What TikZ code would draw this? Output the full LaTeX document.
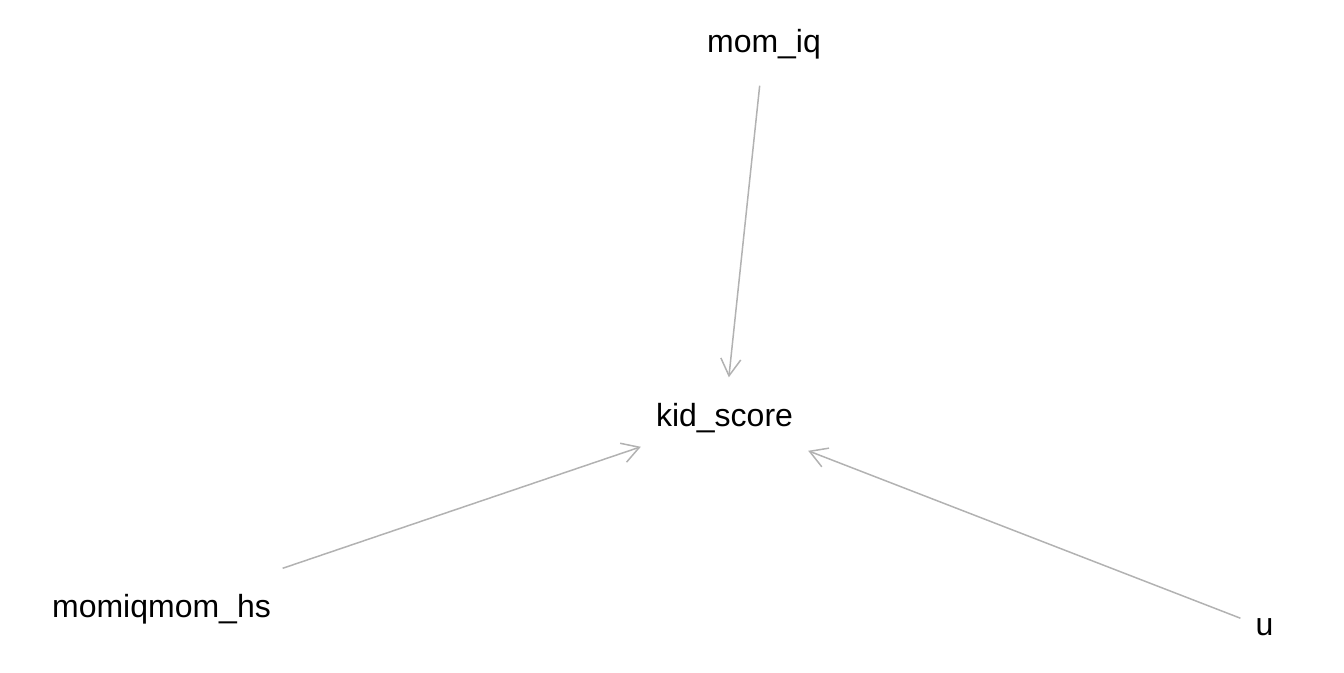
\documentclass[tikz,border=0pt]{standalone}
\usepackage{fontspec}
\setmainfont{Liberation Sans}
\usetikzlibrary{arrows.meta}
\definecolor{edgegray}{RGB}{178,178,178}
\tikzset{
  dagnode/.style={rectangle, inner xsep=15pt, inner ysep=25pt, text height=24pt, text depth=8pt,
    font=\fontsize{32}{38}\selectfont, text=black},
  dagedge/.style={draw=edgegray, line width=1.5pt,
    -{Straight Barb[length=17pt,width=20pt,line width=1.5pt]}}
}
\begin{document}
\begin{tikzpicture}[x=1pt,y=-1pt]
\useasboundingbox (0,0) rectangle (1344,672);
\node[dagnode] (kid) at (724.5,418.5) {kid\_score};
\node[dagnode] (iq) at (764,44.5) {mom\_iq};
\node[dagnode] (hs) at (161.5,609.5) {momiqmom\_hs};
\node[dagnode] (u) at (1264.5,627.5) {u};
\draw[dagedge] (iq) -- (kid);
\draw[dagedge] (hs) -- (kid);
\draw[dagedge] (u) -- (kid);
\end{tikzpicture}
\end{document}
